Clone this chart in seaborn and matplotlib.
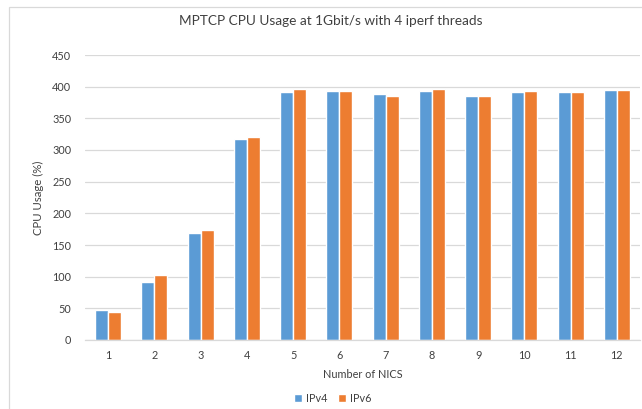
import matplotlib
matplotlib.use("Agg")
import matplotlib.pyplot as plt
import seaborn as sns
import pandas as pd
from matplotlib.patches import Rectangle

nics = ["1", "2", "3", "4", "5", "6", "7", "8", "9", "10", "11", "12"]
ipv4 = [47, 91, 169, 317, 391, 393, 388, 393, 386, 392, 392, 395]
ipv6 = [45, 103, 173, 320, 397, 393, 385, 396, 386, 393, 392, 395]
series = ["IPv4", "IPv6"]
yticks = [0, 50, 100, 150, 200, 250, 300, 350, 400, 450]

df = pd.DataFrame({
    "nics": nics * 2,
    "cpu": ipv4 + ipv6,
    "proto": [series[0]] * len(nics) + [series[1]] * len(nics),
})

sns.set_theme(style="white")
plt.rcParams["font.family"] = ["Lato", "DejaVu Sans"]

fig = plt.figure(figsize=(6.42, 4.09), dpi=100)
ax = fig.add_axes([85 / 642, 1 - 340 / 409, 555 / 642, 285 / 409])

sns.barplot(data=df, x="nics", y="cpu", hue="proto", order=nics,
            palette=["#5B9BD5", "#ED7D31"], saturation=1, width=0.56,
            edgecolor="white", linewidth=1.0, ax=ax, legend=True)

ax.set_xlim(-0.5, 11.5)
ax.set_ylim(0, 450)
ax.set_yticks(yticks)
ax.set_yticklabels([str(t) for t in yticks])
ax.yaxis.grid(True, color="#d9d9d9", linewidth=0.9)
ax.set_axisbelow(True)
for s in ["top", "right", "left"]:
    ax.spines[s].set_visible(False)
ax.spines["bottom"].set_color("#d9d9d9")
ax.spines["bottom"].set_linewidth(0.9)
ax.tick_params(axis="both", length=0, labelsize=7.8, colors="#404040")
ax.tick_params(axis="y", pad=10)
ax.tick_params(axis="x", pad=7)

ax.set_xlabel("Number of NICS", fontsize=7.8, color="#404040", labelpad=6)
ax.set_ylabel("CPU Usage (%)", fontsize=8.2, color="#404040", labelpad=6)

fig.text(331 / 642, 1 - 21 / 409, "MPTCP CPU Usage at 1Gbit/s with 4 iperf threads",
         ha="center", va="center", fontsize=9.8, color="#404040")

handles, labels = ax.get_legend_handles_labels()
ax.legend_.remove()
fig.legend(handles, labels, loc="center", bbox_to_anchor=(333 / 642, 1 - 398 / 409),
           ncol=2, frameon=False, fontsize=7.8, handlelength=0.7, handleheight=0.7,
           handletextpad=0.4, columnspacing=1.0, labelcolor="#404040")

fig.patches.append(Rectangle((9 / 642, -0.1), 1.2, 1 - 7 / 409 + 0.1,
                             transform=fig.transFigure, fill=False,
                             edgecolor="#d9d9d9", linewidth=0.9, figure=fig))

fig.savefig("out.png", dpi=100)
